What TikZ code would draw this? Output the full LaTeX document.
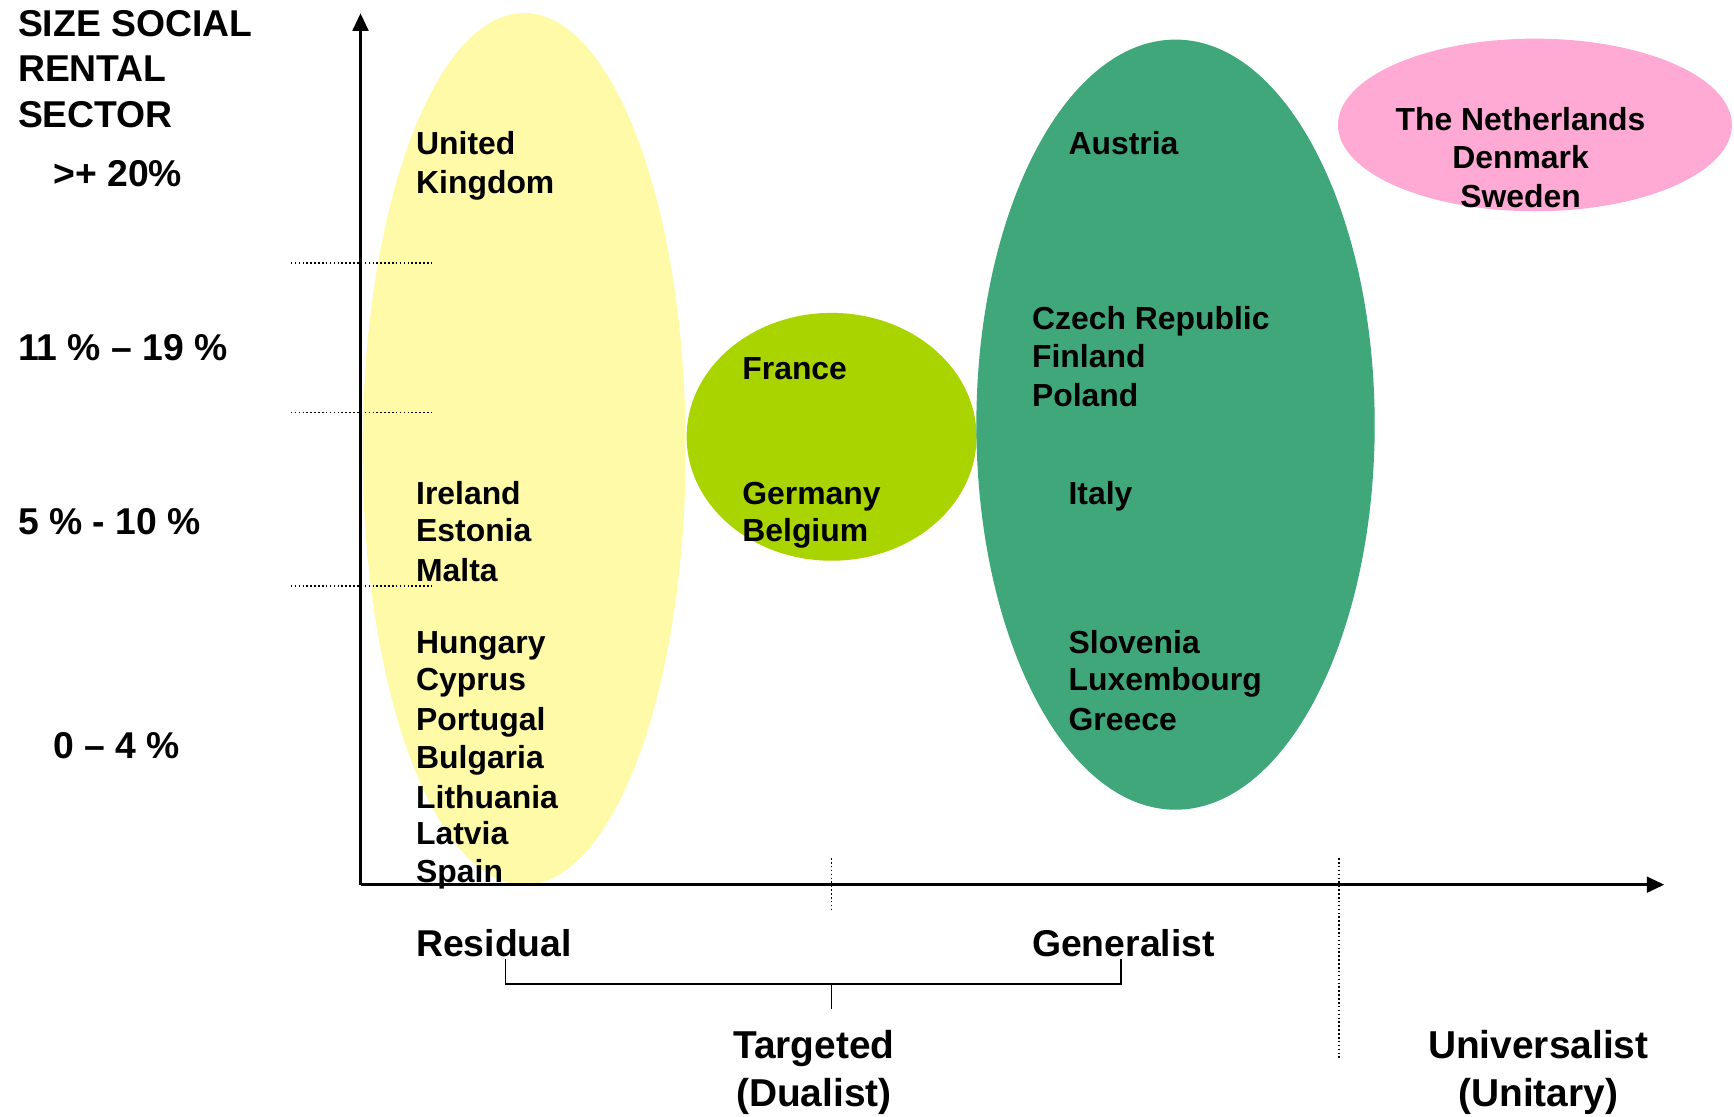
\documentclass[tikz,border=0pt]{standalone}
\usepackage{fontspec}
\setmainfont{Liberation Sans}
\usetikzlibrary{arrows.meta}

\definecolor{residyellow}{RGB}{255,250,168}
\definecolor{targetlime}{RGB}{170,212,0}
\definecolor{generalgreen}{RGB}{63,167,122}
\definecolor{universalpink}{RGB}{255,170,212}

\tikzset{every picture/.style={line width=0.75pt}}
\tikzset{
  country/.style={font=\fontsize{8.2}{9.8}\selectfont\bfseries, inner sep=0pt, anchor=base west},
  biglabel/.style={font=\fontsize{9.6}{11.5}\selectfont\bfseries, inner sep=0pt},
  regimelabel/.style={font=\fontsize{10}{12}\selectfont\bfseries, inner sep=0pt},
  levelline/.style={line width=0.45pt, dash pattern=on 0.4pt off 0.6pt},
  axisline/.style={line width=0.8pt, -{Triangle[length=4.5pt,width=4pt]}},
}

\begin{document}
\begin{tikzpicture}[x=0.01cm,y=-0.01cm]
        \useasboundingbox (0,0) rectangle (1568,1010);
        % regime zones
        \fill[residyellow] (474,406) ellipse [x radius=1.46cm, y radius=3.94cm];
        \fill[targetlime] (752,395) ellipse [x radius=1.31cm, y radius=1.12cm];
        \fill[generalgreen] (1063,384) ellipse [x radius=1.80cm, y radius=3.48cm];
        \fill[universalpink] (1388,113) ellipse [x radius=1.78cm, y radius=0.78cm];

        % axes
        \coordinate (O) at (326,800);
        \coordinate (ytop) at (326,12);
        \coordinate (xend) at (1505,800);
        \draw[axisline] (O) -- (ytop);
        \draw[axisline] (O) -- (xend);

        % size levels
        \foreach \yy [count=\i] in {238,373,530} {
            \coordinate (lvlA\i) at (263,\yy);
            \coordinate (lvlB\i) at (392,\yy);
            \draw[levelline] (lvlA\i) -- (lvlB\i);
        }

        \node[biglabel, anchor=base west] (title1) at (15,33) {SIZE SOCIAL};
        \node[biglabel, anchor=base west] (title2) at (15,74) {RENTAL};
        \node[biglabel, anchor=base west] (title3) at (15,115) {SECTOR};
        \node[biglabel, anchor=base west] (size1) at (47,169) {>+ 20\%};
        \node[biglabel, anchor=base west] (size2) at (15,326) {11 \% – 19 \%};
        \node[biglabel, anchor=base west] (size3) at (15,483) {5 \% - 10 \%};
        \node[biglabel, anchor=base west] (size4) at (47,686) {0 – 4 \%};

        % countries
        \foreach \txt/\yy [count=\i] in {United/130,Kingdom/165,Ireland/446,Estonia/480,Malta/516,
            Hungary/581,Cyprus/614,Portugal/651,Bulgaria/685,Lithuania/721,Latvia/754,Spain/788}
            \node[country] (resid\i) at (375,{\yy+10}) {\txt};
        \foreach \txt/\yy [count=\i] in {France/333,Germany/446,Belgium/480}
            \node[country] (target\i) at (670,{\yy+10}) {\txt};
        \foreach \txt/\xx/\yy [count=\i] in {Austria/965/130,Czech Republic/932/288,Finland/932/322,
            Poland/932/358,Italy/965/446,Slovenia/965/581,Luxembourg/965/614,Greece/965/651}
            \node[country] (gen\i) at (\xx,{\yy+10}) {\txt};
        \foreach \txt/\yy [count=\i] in {The Netherlands/108,Denmark/142,Sweden/178}
            \node[country, anchor=base] (univ\i) at (1375,{\yy+10}) {\txt};

        % regime types
        \node[biglabel, anchor=base west] (residual) at (375,865) {Residual};
        \node[biglabel, anchor=base west] (generalist) at (932,865) {Generalist};
        \node[regimelabel, anchor=base] (targeted) at (736,957) {Targeted};
        \node[regimelabel, anchor=base] (dualist) at (736,1001) {(Dualist)};
        \node[regimelabel, anchor=base] (universalist) at (1391,957) {Universalist};
        \node[regimelabel, anchor=base] (unitary) at (1391,1001) {(Unitary)};

        \coordinate (brL) at (457,867);
        \coordinate (brR) at (1014,867);
        \coordinate (brM) at (752,890);
        \coordinate (brT) at (752,912);
        \draw[line width=0.45pt] (brL) |- (brM) -| (brR);
        \draw[line width=0.45pt] (brM) -- (brT);

        \coordinate (sepA) at (752,776);
        \coordinate (sepB) at (752,822);
        \coordinate (sepC) at (1211,776);
        \coordinate (sepD) at (1211,957);
        \draw[levelline] (sepA) -- (sepB);
        \draw[levelline] (sepC) -- (sepD);
    \end{tikzpicture}
\end{document}
